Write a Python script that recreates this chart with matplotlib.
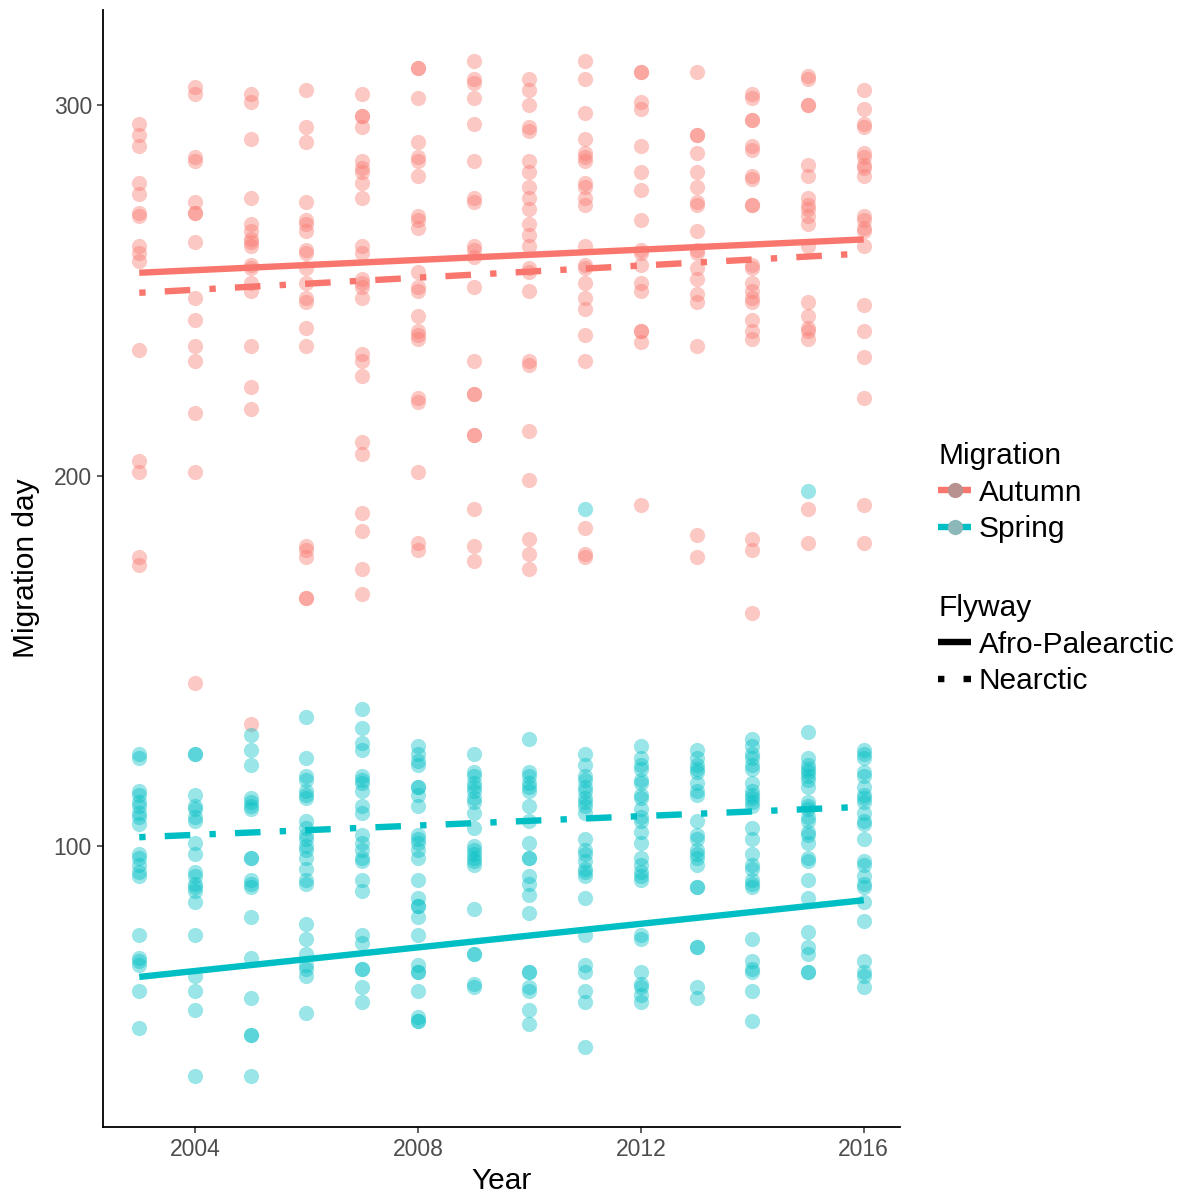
import matplotlib
matplotlib.use('Agg')
import matplotlib.pyplot as plt
from matplotlib.lines import Line2D

plt.rcParams['font.family'] = ['Liberation Sans', 'DejaVu Sans']

years = [2003, 2004, 2005, 2006, 2007, 2008, 2009, 2010, 2011, 2012, 2013, 2014, 2015, 2016]

autumn_days = [
    [295, 292, 289, 279, 276, 271, 270, 262, 260, 258, 234, 204, 201, 178, 176],
    [305, 303, 286, 285, 274, 271, 271, 263, 248, 242, 235, 231, 217, 201, 144],
    [303, 301, 291, 275, 268, 266, 264, 263, 262, 257, 256, 252, 250, 235, 224, 218, 133],
    [304, 294, 290, 274, 269, 268, 266, 261, 260, 256, 252, 248, 247, 240, 235, 181, 180, 178, 167, 167],
    [303, 297, 297, 294, 285, 283, 282, 279, 275, 262, 260, 253, 252, 251, 248, 233, 231, 227, 209, 206, 190, 185, 175, 168],
    [310, 310, 302, 290, 286, 285, 281, 270, 269, 267, 255, 251, 250, 243, 239, 238, 237, 221, 220, 201, 182, 180],
    [312, 307, 306, 302, 295, 285, 275, 274, 262, 261, 259, 251, 231, 222, 222, 211, 211, 191, 181, 177],
    [307, 304, 300, 294, 293, 285, 282, 278, 275, 272, 268, 265, 262, 256, 255, 250, 231, 230, 212, 199, 183, 179, 175],
    [312, 307, 298, 291, 287, 286, 285, 279, 278, 275, 273, 262, 257, 256, 252, 248, 245, 238, 231, 186, 179, 178],
    [309, 309, 301, 299, 289, 282, 277, 269, 261, 260, 257, 252, 250, 239, 239, 236, 192],
    [309, 292, 292, 287, 282, 278, 274, 273, 266, 261, 260, 256, 253, 249, 247, 235, 184, 178],
    [303, 302, 296, 296, 289, 288, 281, 280, 273, 273, 257, 256, 252, 250, 248, 247, 242, 239, 237, 183, 180, 163],
    [308, 307, 300, 300, 284, 281, 275, 273, 272, 270, 268, 262, 247, 243, 240, 239, 237, 191, 182],
    [304, 299, 295, 294, 287, 286, 284, 283, 281, 270, 269, 267, 266, 262, 246, 239, 232, 221, 192, 182],
]

spring_days = [
    [125, 124, 115, 114, 112, 111, 109, 108, 106, 98, 97, 95, 93, 92, 76, 70, 69, 68, 61, 51],
    [125, 125, 114, 111, 110, 108, 107, 101, 98, 93, 92, 90, 89, 88, 85, 76, 65, 61, 56, 38],
    [130, 126, 122, 113, 112, 111, 110, 97, 97, 91, 90, 89, 81, 70, 59, 49, 49, 38],
    [135, 124, 119, 118, 115, 114, 113, 107, 105, 103, 102, 100, 99, 97, 94, 91, 90, 79, 75, 71, 68, 67, 65, 55],
    [137, 132, 128, 126, 119, 118, 117, 115, 111, 109, 103, 101, 99, 97, 96, 91, 88, 76, 74, 67, 67, 62, 58],
    [127, 125, 123, 122, 116, 116, 114, 111, 103, 102, 101, 99, 97, 91, 86, 84, 84, 81, 76, 68, 66, 66, 61, 54, 53, 53],
    [125, 120, 119, 117, 116, 115, 113, 112, 109, 105, 100, 99, 98, 97, 96, 95, 83, 71, 71, 63, 62],
    [129, 120, 119, 117, 116, 115, 111, 107, 101, 97, 97, 92, 90, 87, 82, 66, 66, 62, 61, 56, 52],
    [191, 125, 122, 119, 118, 116, 115, 113, 112, 111, 109, 102, 99, 98, 96, 94, 93, 92, 86, 76, 68, 66, 61, 58, 46],
    [127, 124, 122, 121, 118, 117, 114, 113, 110, 108, 107, 104, 101, 97, 95, 93, 92, 91, 76, 75, 66, 63, 62, 60, 58],
    [126, 124, 122, 121, 120, 117, 115, 114, 107, 103, 102, 99, 98, 97, 95, 89, 89, 73, 73, 62, 59],
    [129, 127, 125, 124, 122, 121, 117, 115, 114, 113, 112, 111, 105, 102, 98, 95, 94, 91, 90, 89, 75, 69, 67, 66, 61, 53],
    [196, 131, 124, 122, 121, 120, 119, 118, 116, 112, 111, 110, 108, 107, 104, 103, 101, 97, 96, 91, 86, 77, 73, 71, 66, 66],
    [126, 125, 124, 120, 119, 116, 114, 113, 112, 109, 107, 106, 102, 96, 95, 92, 90, 89, 85, 80, 69, 66, 65, 62],
]

# fitted trend lines (value at first and last year)
fit_years = [2003, 2016]
autumn_afro_fit = [254.8, 263.8]
autumn_nearctic_fit = [249.4, 260.0]
spring_afro_fit = [64.8, 85.5]
spring_nearctic_fit = [102.5, 110.7]

migration_labels = ['Autumn', 'Spring']
flyway_labels = ['Afro-Palearctic', 'Nearctic']

c_aut = '#F8766D'
c_spr = '#00BFC4'

W, H = 1202, 1196
fig = plt.figure(figsize=(W / 100, H / 100), dpi=100)
ax = fig.add_axes([103 / W, 1 - 1127 / H, (900 - 103) / W, (1127 - 10) / H])

for yr, vals in zip(years, autumn_days):
    ax.scatter([yr] * len(vals), vals, s=120, color=c_aut, alpha=0.4, linewidths=0, zorder=2)
for yr, vals in zip(years, spring_days):
    ax.scatter([yr] * len(vals), vals, s=120, color=c_spr, alpha=0.4, linewidths=0, zorder=2)

lw = 4.6
dd = (0, (1, 3, 4, 3))
ax.plot(fit_years, autumn_afro_fit, color=c_aut, lw=lw, solid_capstyle='butt', zorder=3)
ax.plot(fit_years, autumn_nearctic_fit, color=c_aut, lw=lw, ls=dd, dash_capstyle='butt', zorder=3)
ax.plot(fit_years, spring_afro_fit, color=c_spr, lw=lw, solid_capstyle='butt', zorder=3)
ax.plot(fit_years, spring_nearctic_fit, color=c_spr, lw=lw, ls=dd, dash_capstyle='butt', zorder=3)

ax.set_xlim(2002.35, 2016.65)
ax.set_ylim(24.3, 325.7)
ax.set_xticks([2004, 2008, 2012, 2016])
ax.set_yticks([100, 200, 300])
for s in ['top', 'right']:
    ax.spines[s].set_visible(False)
for s in ['left', 'bottom']:
    ax.spines[s].set_linewidth(1.3)
    ax.spines[s].set_color('black')
ax.tick_params(direction='out', length=4, width=1.1, color='#333333',
               labelcolor='#4D4D4D', labelsize=16.5, pad=4)
ax.set_xlabel('Year', fontsize=21.5, labelpad=4)
ax.set_ylabel('Migration day', fontsize=21.5, labelpad=10)

# legends
h_mig = [
    Line2D([], [], color=c_aut, lw=lw, solid_capstyle='butt', marker='o', markersize=11,
           markerfacecolor='#B8928F', markeredgewidth=0),
    Line2D([], [], color=c_spr, lw=lw, solid_capstyle='butt', marker='o', markersize=11,
           markerfacecolor='#8DB8B9', markeredgewidth=0),
]
leg1 = fig.legend(h_mig, migration_labels, title='Migration', loc='upper left',
                  bbox_to_anchor=(916 / W, 1 - 420 / H), frameon=False, fontsize=21.5,
                  title_fontsize=21.5, handlelength=1.1, handletextpad=0.25, numpoints=1,
                  labelspacing=0.28, borderpad=0.25, alignment='left')
h_fly = [Line2D([], [], color='black', lw=lw, solid_capstyle='butt'),
         Line2D([], [], color='black', lw=lw, ls=dd, dash_capstyle='butt')]
leg2 = fig.legend(h_fly, flyway_labels, title='Flyway', loc='upper left',
                  bbox_to_anchor=(916 / W, 1 - 572 / H), frameon=False, fontsize=21.5,
                  title_fontsize=21.5, handlelength=1.1, handletextpad=0.25,
                  labelspacing=0.28, borderpad=0.25, alignment='left')

fig.savefig('out.png', dpi=100, facecolor='white')
